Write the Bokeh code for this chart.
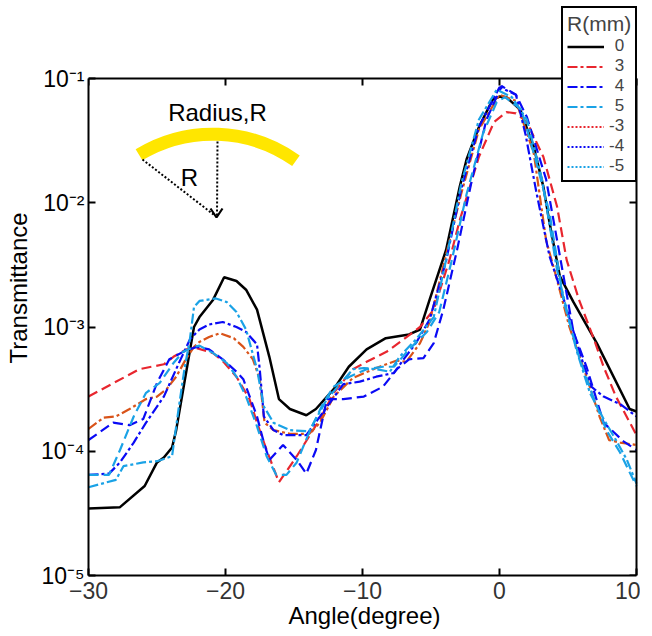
from bokeh.plotting import figure
from bokeh.embed import file_html
from bokeh.resources import INLINE
from bokeh.core.properties import value
from bokeh.models import (LogAxis, LinearAxis, FixedTicker, CustomJSTickFormatter,
                          Range1d, LinearScale, Legend, LegendItem, CustomLabelingPolicy)

# ---------------- data (log10 of transmittance) -------------
x_ticks = [-30, -20, -10, 0, 10]
y_ticks = [1e-5, 1e-4, 1e-3, 1e-2, 1e-1]

r0_x = [-30, -27.7, -25.9, -25.0, -24.5, -23.9, -23.6, -22.3, -21.9, -20.9, -20.1, -19.2, -18.5, -17.7,
        -16.8, -16.1, -15.3, -14.1, -13.4, -12.1, -11.0, -9.7, -8.3, -6.6, -5.8, -5.1, -3.9, -2.9, -2.4,
        -1.5, -0.5, 0, 0.5, 1.5, 2.5, 3.2, 3.7, 4.4, 5.4, 7.1, 9.5, 10]
r0_log = [-4.46, -4.45, -4.28, -4.09, -4.05, -3.97, -3.83, -3.00, -2.92, -2.78, -2.60, -2.63, -2.70, -2.86,
          -3.24, -3.58, -3.66, -3.71, -3.66, -3.50, -3.32, -3.18, -3.09, -3.06, -3.02, -2.78, -2.38, -1.87, -1.65,
          -1.39, -1.17, -1.145, -1.15, -1.25, -1.55, -1.87, -2.19, -2.59, -2.80, -3.13, -3.66, -3.68]

r3_x = [-30, -28.9, -28.0, -27.0, -25.8, -25.0, -24.3, -23.6, -22.9, -22.3, -21.9, -21.2, -20.4, -19.4,
        -18.7, -18.0, -17.5, -17.15, -16.5, -15.3, -13.9, -13.1, -12.1, -10.7, -9.0, -7.5, -6.8, -5.8, -5.1,
        -3.9, -2.8, -1.5, 0, 1.2, 2.5, 3.4, 4.2, 5.1, 6.35, 7.3, 8.0, 8.8, 10]
r3_log = [-3.82, -3.73, -3.72, -3.66, -3.58, -3.56, -3.50, -3.40, -3.26, -3.16, -3.12, -3.08, -3.05, -3.09,
          -3.16, -3.26, -3.42, -3.77, -3.83, -3.86, -3.86, -3.77, -3.56, -3.41, -3.33, -3.27, -3.28, -3.13, -2.96,
          -2.42, -1.93, -1.41, -1.13, -1.18, -1.60, -2.30, -2.62, -3.00, -3.40, -3.72, -3.91, -3.93, -3.95]

r4_x = [-30, -28.5, -27.7, -26.7, -25.8, -24.5, -23.4, -22.6, -21.9, -21.2, -20.2, -19.2, -18.5, -17.7,
        -17.5, -17.2, -16.5, -15.8, -14.1, -13.1, -11.4, -10.2, -9.0, -7.7, -7.0, -6.1, -5.1, -3.9, -2.8,
        -1.5, 0, 1.2, 1.9, 2.7, 3.65, 4.7, 6.1, 6.7, 7.6, 8.8, 10]
r4_log = [-4.19, -4.18, -4.09, -3.93, -3.77, -3.56, -3.29, -3.10, -3.02, -2.98, -2.96, -3.00, -3.04, -3.14,
          -3.34, -3.72, -3.83, -3.87, -3.87, -3.72, -3.46, -3.44, -3.40, -3.37, -3.26, -3.13, -2.94, -2.47, -1.89,
          -1.39, -1.07, -1.13, -1.45, -1.92, -2.43, -2.78, -3.29, -3.48, -3.56, -3.62, -3.72]

r5_x = [-30, -28.0, -27.45, -26.0, -25.0, -23.9, -23.4, -23.0, -22.6, -22.3, -21.9, -20.7, -19.9, -19.2,
        -18.5, -17.7, -17.2, -16.5, -15.3, -13.9, -12.6, -10.7, -9.9, -9.0, -8.0, -7.3, -6.1, -4.8, -3.9,
        -2.8, -1.5, -0.2, 0.9, 2.0, 3.1, 4.2, 5.6, 6.6, 7.6, 8.5, 9.3, 10]
r5_log = [-4.29, -4.23, -4.12, -4.09, -4.08, -4.04, -3.64, -3.34, -3.10, -2.84, -2.79, -2.77, -2.80, -2.88,
          -3.02, -3.34, -3.64, -3.77, -3.83, -3.84, -3.58, -3.34, -3.33, -3.34, -3.36, -3.24, -3.10, -2.92, -2.46,
          -1.85, -1.33, -1.09, -1.15, -1.33, -1.81, -2.54, -3.18, -3.53, -3.74, -3.91, -4.07, -4.26]

rm3_x = [-30, -26.3, -24.5, -23.8, -22.85, -22.1, -20.9, -20.15, -19.2, -18.25, -17.7, -17.0, -16.1, -14.8,
         -13.1, -12.1, -10.7, -9.7, -8.25, -7.0, -5.8, -4.8, -3.65, -2.9, -1.5, -0.4, 0.5, 1.2, 2.0, 3.2,
         4.2, 4.9, 5.8, 6.9, 7.6, 8.5, 10]
rm3_log = [-3.56, -3.34, -3.30, -3.24, -3.18, -3.17, -3.21, -3.28, -3.40, -3.58, -3.77, -3.99, -4.25, -4.04,
           -3.74, -3.53, -3.34, -3.28, -3.20, -3.10, -3.00, -2.86, -2.46, -2.14, -1.63, -1.35, -1.27, -1.28, -1.35,
           -1.63, -2.03, -2.46, -2.78, -3.10, -3.32, -3.56, -3.87]

rm4_x = [-30, -28.2, -27.0, -26.0, -25.0, -24.1, -23.1, -22.1, -21.2, -20.2, -19.2, -18.7, -17.7, -17.2,
         -16.8, -15.8, -14.8, -14.1, -13.4, -12.6, -11.4, -9.9, -8.5, -7.5, -6.6, -5.55, -4.8, -4.1, -3.1,
         -2.0, -0.95, 0.15, 1.2, 2.0, 3.4, 4.2, 5.4, 6.35, 7.6, 9.05, 10]
rm4_log = [-3.91, -3.77, -3.79, -3.74, -3.45, -3.26, -3.20, -3.16, -3.18, -3.26, -3.36, -3.42, -3.72, -3.93,
           -4.07, -3.95, -4.07, -4.18, -3.99, -3.58, -3.58, -3.56, -3.48, -3.34, -3.26, -3.25, -3.13, -2.86, -2.38,
           -1.81, -1.33, -1.06, -1.13, -1.31, -1.81, -2.30, -3.04, -3.32, -3.77, -3.92, -3.99]

rm5_x = [-30, -28.5, -27.7, -26.7, -25.8, -24.8, -23.8, -23.1, -22.3, -21.9, -20.9, -19.9, -19.2, -18.5,
         -17.7, -17.0, -16.3, -15.55, -14.8, -13.9, -12.85, -12.1, -10.95, -9.7, -8.5, -7.7, -6.6, -5.3, -4.4,
         -3.5, -2.4, -1.2, -0.2, 0.4, 1.6, 2.7, 3.65, 4.7, 5.8, 6.9, 7.8, 8.8, 9.5, 10]
rm5_log = [-4.19, -4.19, -3.99, -3.72, -3.53, -3.45, -3.29, -3.20, -3.16, -3.15, -3.21, -3.29, -3.40, -3.56,
           -3.80, -4.04, -4.19, -4.19, -4.09, -3.85, -3.61, -3.48, -3.40, -3.34, -3.32, -3.32, -3.18, -3.04, -2.88,
           -2.47, -1.93, -1.44, -1.19, -1.15, -1.25, -1.68, -2.08, -2.80, -3.24, -3.58, -3.83, -4.01, -4.17, -4.28]

legend_labels = ["0", "3", "4", "5", "-3", "-4", "-5"]

# ---------------- styles / layout ----------------
FONT = "Liberation Sans"
BLACK = "#000000"
RED = "#E8262E"
ORANGE = "#D95319"
BLUE = "#0A0AF5"
CYAN = "#1AA2E6"
YELLOW = "#FFE600"
DASH = "10 5"
DASHDOT = "10 3 3 3"

# the frame is larger than the data box so that the legend (which sticks out of the
# axes box in the reference) is not clipped; the axes box is drawn by fixed axes.
FRAME_W, FRAME_H = 552, 575
X_END = 10.292          # 4 px right of x = 10
Y_END = 10 ** -0.3722   # 78 px above 1e-1

p = figure(frame_width=FRAME_W, frame_height=FRAME_H, min_border_left=88, min_border_right=0,
           min_border_top=0, min_border_bottom=59,
           x_range=Range1d(-30, X_END), y_range=Range1d(1e-5, Y_END), y_axis_type="log",
           output_backend="svg", toolbar_location=None)
p.xgrid.visible = False
p.ygrid.visible = False
p.outline_line_color = None
p.background_fill_color = "white"
p.border_fill_color = "white"

def tv(logs):
    return [10 ** v for v in logs]

p.line(r0_x, tv(r0_log), line_color=BLACK, line_width=2.5)
p.line(rm3_x, tv(rm3_log), line_color=RED, line_width=2.2, line_dash=DASH)
p.line(r3_x, tv(r3_log), line_color=ORANGE, line_width=2.2, line_dash=DASHDOT)
p.line(r4_x, tv(r4_log), line_color=BLUE, line_width=2.2, line_dash=DASHDOT)
p.line(rm4_x, tv(rm4_log), line_color=BLUE, line_width=2.2, line_dash=DASH)
p.line(r5_x, tv(r5_log), line_color=CYAN, line_width=2.2, line_dash=DASHDOT)
p.line(rm5_x, tv(rm5_log), line_color=CYAN, line_width=2.2, line_dash=DASH)

# ---------------- axes ----------------
sup_code = """
const e = Math.round(Math.log10(tick));
const m = {'-':'\u207b','0':'\u2070','1':'\u00b9','2':'\u00b2','3':'\u00b3','4':'\u2074','5':'\u2075','6':'\u2076','7':'\u2077','8':'\u2078','9':'\u2079'};
return '10' + String(e).split('').map(c => m[c]).join('');
"""

xa = p.xaxis[0]
xa.ticker = FixedTicker(ticks=x_ticks)
xa.bounds = (-30, 10)
xa.axis_label = "Angle(degree)"
ya = p.yaxis[0]
ya.ticker = FixedTicker(ticks=y_ticks)
ya.bounds = (1e-5, 1e-1)
ya.formatter = CustomJSTickFormatter(code=sup_code)
ya.axis_label = "Transmittance"

for ax, col in ((xa, "#333333"), (ya, "#000000")):
    ax.axis_line_width = 2
    ax.axis_line_color = "black"
    ax.major_tick_in = 7
    ax.major_tick_out = 0
    ax.major_tick_line_width = 2
    ax.minor_tick_line_color = None
    ax.major_label_text_font = FONT
    ax.major_label_text_font_size = "23px"
    ax.major_label_text_color = col
    ax.axis_label_text_font = FONT
    ax.axis_label_text_font_size = "24px"
    ax.axis_label_text_font_style = "normal"
    ax.axis_label_text_color = "black"
xa.major_label_standoff = 6
xa.axis_label_standoff = 0
ya.major_label_standoff = 4
ya.axis_label_standoff = 6

no_labels = "for (const i of indices) { indices.unset(i) }\nreturn indices"
top = LinearAxis(ticker=FixedTicker(ticks=x_ticks), fixed_location=1e-1, bounds=(-30, 10))
right = LogAxis(ticker=FixedTicker(ticks=y_ticks), fixed_location=10, bounds=(1e-5, 1e-1))
for ax in (top, right):
    ax.axis_line_width = 2
    ax.major_tick_in = 7
    ax.major_tick_out = 0
    ax.major_tick_line_width = 2
    ax.minor_tick_line_color = None
    ax.major_label_policy = CustomLabelingPolicy(code=no_labels)
    ax.major_label_text_font_size = "10px"
    ax.major_label_standoff = 0
p.add_layout(top, "above")
p.add_layout(right, "right")

# ---------------- inset diagram (pixel space of the data box) ----------------
p.extra_x_ranges = {"px": Range1d(0, FRAME_W)}
p.extra_y_ranges = {"px": Range1d(0, FRAME_H)}
p.extra_x_scales = {"px": LinearScale()}
p.extra_y_scales = {"px": LinearScale()}
PX = dict(x_range_name="px", y_range_name="px")

arc_cx, arc_cy, arc_r = 124.4, 298.3, 143
arc_a0, arc_a1 = 0.951, 2.114
p.arc(x=[arc_cx], y=[arc_cy], radius=arc_r, radius_units="screen",
      start_angle=arc_a0, end_angle=arc_a1, direction="anticlock",
      line_color=YELLOW, line_width=13, line_cap="butt", **PX)
p.line([129, 128.5], [434, 360], line_color="black", line_width=2, line_dash="2 2", **PX)
p.line([54, 125], [416, 361], line_color="black", line_width=2, line_dash="2 2", **PX)
p.line([122, 128, 134], [367, 358, 367], line_color="black", line_width=2.2, **PX)
p.text(x=[129], y=[463], text=["Radius,R"], text_font=value(FONT), text_font_size="24px",
       text_align="center", text_baseline="middle", text_color="black", **PX)
p.text(x=[101], y=[398], text=["R"], text_font=value(FONT), text_font_size="24px",
       text_align="center", text_baseline="middle", text_color="black", **PX)

# ---------------- legend (styles as drawn in the reference legend) ----------------
leg_styles = [(BLACK, None), (RED, DASHDOT), (BLUE, DASHDOT), (CYAN, DASHDOT),
              (RED, "2 2"), (BLUE, "2 2"), (CYAN, "2 2")]
items = []
for lab, (c, d) in zip(legend_labels, leg_styles):
    kw = dict(line_color=c, line_width=2.2 if d else 2.5)
    if d:
        kw["line_dash"] = d
    # legend-only renderer, placed outside the visible range
    r = p.line(x=[-100, -99], y=[1e-3, 1e-3], **kw)
    shown = lab if lab.startswith("-") else "\u2004" + lab
    items.append(LegendItem(label=shown, renderers=[r]))

legend = Legend(items=items, title="R(mm)", location=(473, 393))
legend.title_text_font = FONT
legend.title_text_font_size = "21px"
legend.title_text_font_style = "normal"
legend.title_standoff = 0
legend.label_text_font = FONT
legend.label_text_font_size = "17px"
legend.label_standoff = 5
legend.glyph_width = 37
legend.glyph_height = 15
legend.label_height = 15
legend.spacing = 0
legend.padding = 4
legend.margin = 0
legend.border_line_color = "black"
legend.border_line_alpha = 1.0
legend.border_line_width = 2
legend.background_fill_color = "white"
legend.background_fill_alpha = 1.0
p.add_layout(legend)

open("out.html", "w").write(file_html(p, INLINE))
